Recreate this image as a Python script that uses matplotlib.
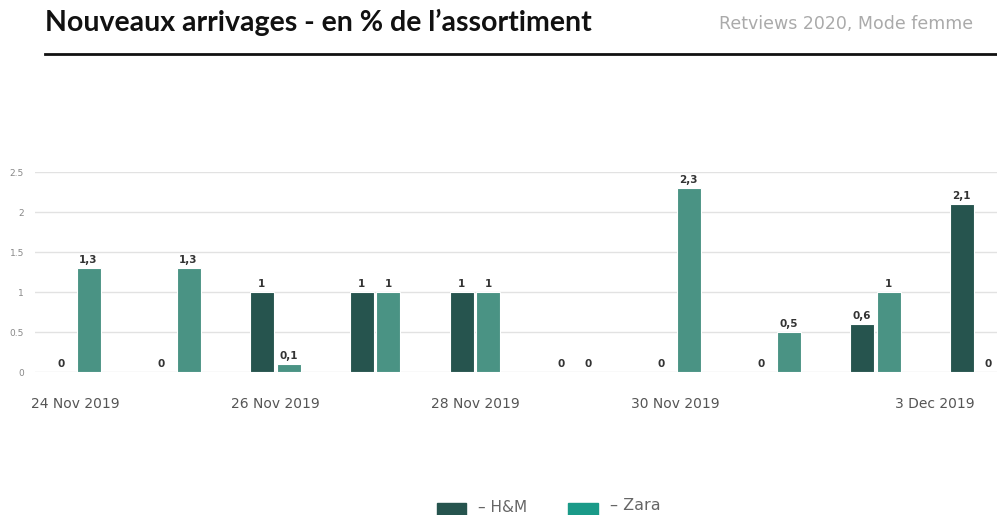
import numpy as np
import matplotlib.pyplot as plt
from matplotlib.patches import Rectangle

days = ['24 Nov 2019', '25 Nov 2019', '26 Nov 2019', '27 Nov 2019', '28 Nov 2019',
        '29 Nov 2019', '30 Nov 2019', '1 Dec 2019', '2 Dec 2019', '3 Dec 2019']
hm = [0, 0, 1, 1, 1, 0, 0, 0, 0.6, 2.1]
zara = [1.3, 1.3, 0.1, 1, 1, 0, 2.3, 0.5, 1, 0]
shown_days = [0, 2, 4, 6, 9]
yticks = [0, 0.5, 1, 1.5, 2, 2.5]

c_hm = '#26544e'
c_zara = '#4a9384'

fig = plt.figure(figsize=(9.97, 5.15), dpi=100)
ax = fig.add_axes([35 / 997, 1 - 372 / 515, 962 / 997, 200 / 515])

x = np.arange(len(days))
w = 0.24
off = 0.135
b1 = ax.bar(x - off, hm, w, color=c_hm, edgecolor='white', linewidth=0.8, zorder=3)
b2 = ax.bar(x + off, zara, w, color=c_zara, edgecolor='white', linewidth=0.8, zorder=3)

for bars in (b1, b2):
    for r in bars:
        v = r.get_height()
        lab = ('%g' % v).replace('.', ',')
        ax.text(r.get_x() + r.get_width() / 2, v + 0.04, lab, ha='center', va='bottom',
                fontsize=7.5, fontweight='bold', color='#333333', clip_on=False, zorder=4)

ax.set_xlim(-0.4, 9.22)
ax.set_ylim(0, 2.5)
ax.set_yticks(yticks)
ax.set_yticklabels(['%g' % t for t in yticks], fontsize=6.5, color='#888888')
ax.set_xticks(shown_days)
ax.set_xticklabels([days[i] for i in shown_days], fontsize=10, color='#555555')
# last date label would run off the right edge, keep it inside
ax.get_xticklabels()[-1].set_horizontalalignment('right')
ax.tick_params(axis='both', length=0)
ax.tick_params(axis='x', pad=18)
ax.tick_params(axis='y', pad=8)
ax.grid(axis='y', color='#e2e2e2', linewidth=1, zorder=0)
for s in ax.spines.values():
    s.set_visible(False)

fig.text(45 / 997, 1 - 22 / 515, "Nouveaux arrivages - en % de l\u2019assortiment",
         fontsize=20.5, fontweight='bold', family=['Lato', 'DejaVu Sans'],
         va='center', ha='left', color='#111111')
fig.text(973 / 997, 1 - 24 / 515, 'Retviews 2020, Mode femme', fontsize=12.5,
         family=['Liberation Sans Narrow', 'DejaVu Sans'], color='#aaaaaa',
         va='center', ha='right')
fig.add_artist(plt.Line2D([45 / 997, 1], [1 - 54 / 515] * 2, color='#111111', linewidth=2))

# legend at bottom
fig.add_artist(Rectangle((437 / 997, 0), 29 / 997, 12 / 515, color=c_hm, transform=fig.transFigure))
fig.text(478 / 997, 1 - 508 / 515, '\u2013 H&M', fontsize=11, color='#666666', va='center')
fig.add_artist(Rectangle((568 / 997, 0), 30 / 997, 12 / 515, color='#1a9a88', transform=fig.transFigure))
fig.text(610 / 997, 1 - 506 / 515, '\u2013 Zara', fontsize=11.5, color='#666666', va='center')

fig.savefig('out.png', dpi=100)
